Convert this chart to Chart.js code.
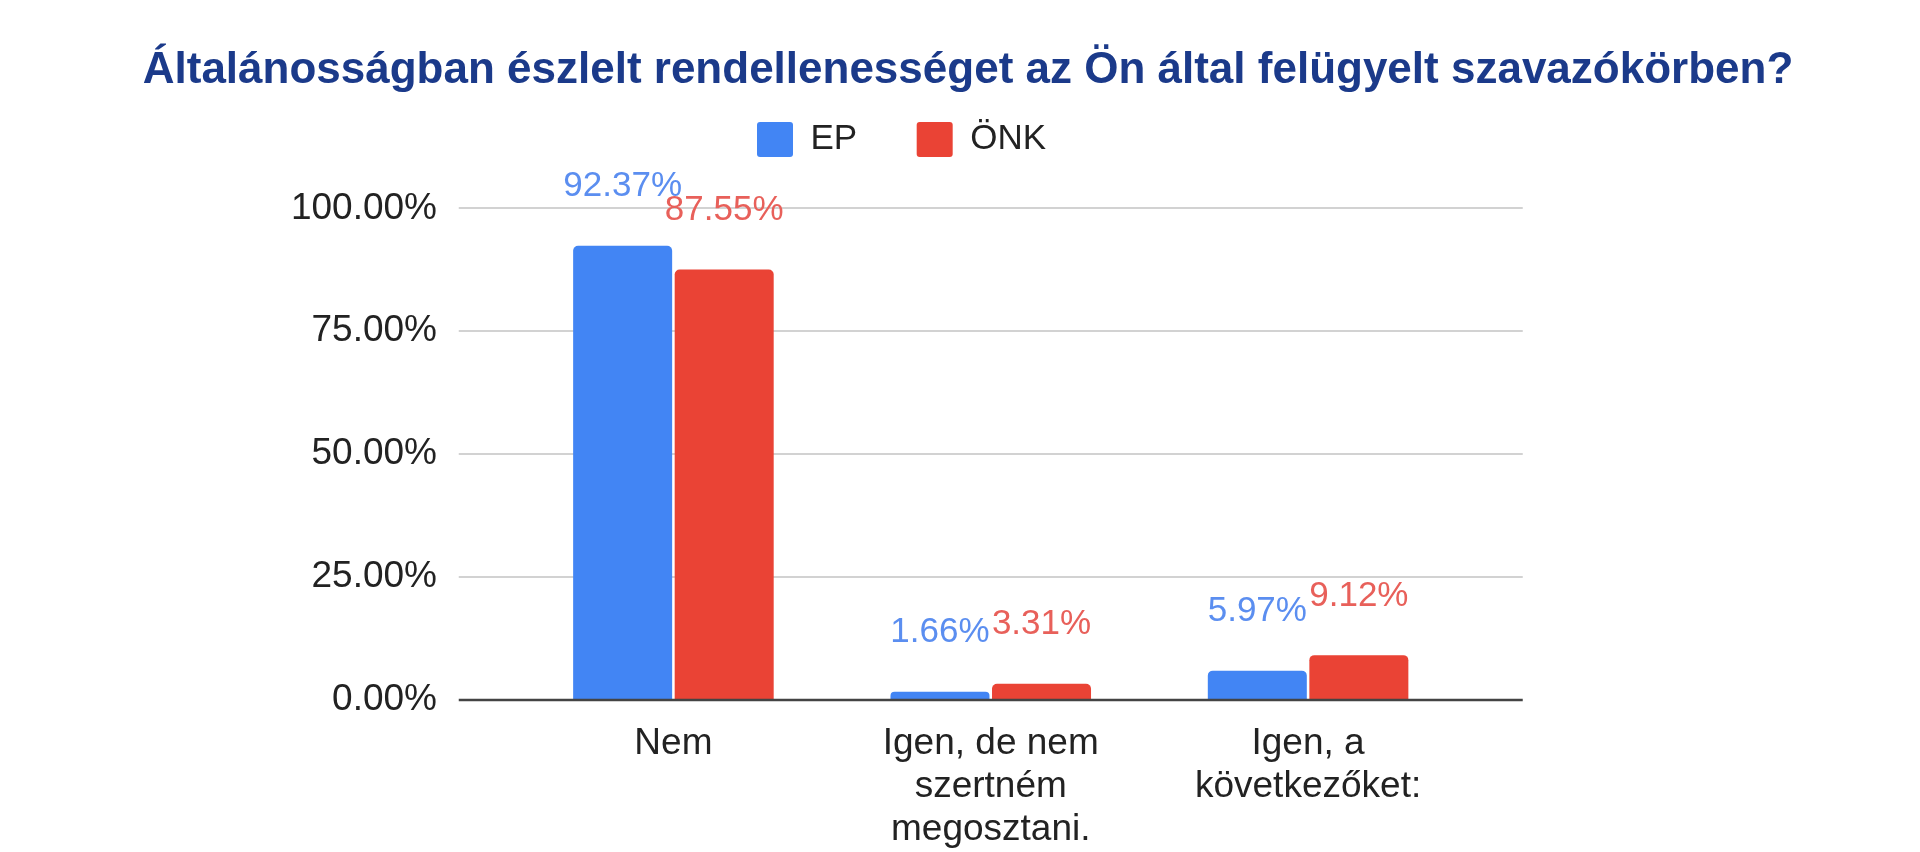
<!DOCTYPE html>
<html>
<head>
<meta charset="utf-8">
<script src="https://cdn.jsdelivr.net/npm/chart.js@4.4.1/dist/chart.umd.min.js"></script>
<style>
  html, body { margin: 0; padding: 0; background: #fff; }
  #chart { display: block; }
</style>
</head>
<body>
<canvas id="chart" width="1920" height="852"></canvas>
<script>
// --- DATA ---
const categories = ['Nem', ['Igen, de nem', 'szertném', 'megosztani.'], ['Igen, a', 'következőket:']];
const seriesNames = ['EP', 'ÖNK'];
const epValues = [92.37, 1.66, 5.97];
const onkValues = [87.55, 3.31, 9.12];
const yTickValues = [0, 25, 50, 75, 100];

const barColors = ['#4285f4', '#ea4335'];
const labelColors = ['#5b8ef0', '#e8605a'];
const FONT = "'Liberation Sans', Arial, sans-serif";

// google style: grid runs past the outer bars, value labels above bars
const googleLook = {
    id: 'googleLook',
    beforeDatasetsDraw(chart) {
        const { ctx, chartArea, scales: { y } } = chart;
        ctx.save();
        ctx.lineWidth = 2;
        ctx.strokeStyle = '#d2d2d2';
        yTickValues.forEach(v => {
            if (v === 0) return;
            const py = Math.round(y.getPixelForValue(v));
            ctx.beginPath();
            ctx.moveTo(chartArea.left - 56, py);
            ctx.lineTo(chartArea.right + 56, py);
            ctx.stroke();
        });
        ctx.restore();
    },
    afterDatasetsDraw(chart) {
        const { ctx, chartArea, scales: { y } } = chart;
        const py = Math.round(y.getPixelForValue(0));
        ctx.save();
        ctx.lineWidth = 2.5;
        ctx.strokeStyle = '#444';
        ctx.beginPath();
        ctx.moveTo(chartArea.left - 56, py);
        ctx.lineTo(chartArea.right + 56, py);
        ctx.stroke();

        ctx.font = `35px ${FONT}`;
        ctx.textAlign = 'center';
        ctx.textBaseline = 'middle';
        chart.data.datasets.forEach((ds, i) => {
            chart.getDatasetMeta(i).data.forEach((bar, j) => {
                ctx.fillStyle = labelColors[i];
                ctx.fillText(ds.data[j].toFixed(2) + '%', bar.x, bar.y - 59);
            });
        });
        ctx.restore();
    },
    afterUpdate(chart) {
        // nudge title and legend to where the reference has them
        const tb = chart.titleBlock;
        if (tb) {
            tb.left = 968 - 900;
            tb.right = 968 + 900;
        }
        const lg = chart.legend;
        if (lg && lg.legendHitBoxes && lg.legendHitBoxes.length) {
            const hb = lg.legendHitBoxes[0];
            const dx = 757 - hb.left;
            const dy = 122 - hb.top;
            lg.left += dx; lg.right += dx;
            lg.top += dy; lg.bottom += dy;
        }
    }
};

new Chart(document.getElementById('chart'), {
    type: 'bar',
    data: {
        labels: categories,
        datasets: [
            { label: seriesNames[0], data: epValues, backgroundColor: barColors[0], borderRadius: { topLeft: 5, topRight: 5 }, categoryPercentage: 0.64, barPercentage: 0.975 },
            { label: seriesNames[1], data: onkValues, backgroundColor: barColors[1], borderRadius: { topLeft: 5, topRight: 5 }, categoryPercentage: 0.64, barPercentage: 0.975 }
        ]
    },
    plugins: [googleLook],
    options: {
        responsive: false,
        animation: false,
        layout: { padding: { left: 0, right: 453.25, top: 0, bottom: 0 } },
        plugins: {
            title: {
                display: true,
                text: 'Általánosságban észlelt rendellenességet az Ön által felügyelt szavazókörben?',
                color: '#1b3a8a',
                font: { family: FONT, size: 44, weight: 'bold', lineHeight: 1.2 },
                padding: { top: 44, bottom: 7 }
            },
            legend: {
                display: true,
                position: 'top',
                labels: {
                    color: '#222',
                    font: { family: FONT, size: 35 },
                    boxWidth: 36,
                    boxHeight: 35,
                    padding: 59.5,
                    useBorderRadius: true,
                    borderRadius: 3
                }
            },
            tooltip: { enabled: false }
        },
        scales: {
            x: {
                grid: { display: false, drawTicks: false },
                border: { display: false },
                ticks: {
                    color: '#222',
                    font: { family: FONT, size: 37, lineHeight: '43px' },
                    padding: 22,
                    maxRotation: 0,
                    autoSkip: false
                },
                afterFit(scale) { scale.height = 152; }
            },
            y: {
                min: 0,
                max: 100,
                grid: { display: false, drawTicks: false },
                border: { display: false },
                afterBuildTicks(scale) { scale.ticks = yTickValues.map(v => ({ value: v })); },
                ticks: {
                    color: '#222',
                    font: { family: FONT, size: 37 },
                    padding: 77.75,
                    callback: v => v.toFixed(2) + '%'
                },
                afterFit(scale) { scale.width = 514.75; }
            }
        }
    }
});
</script>
</body>
</html>
